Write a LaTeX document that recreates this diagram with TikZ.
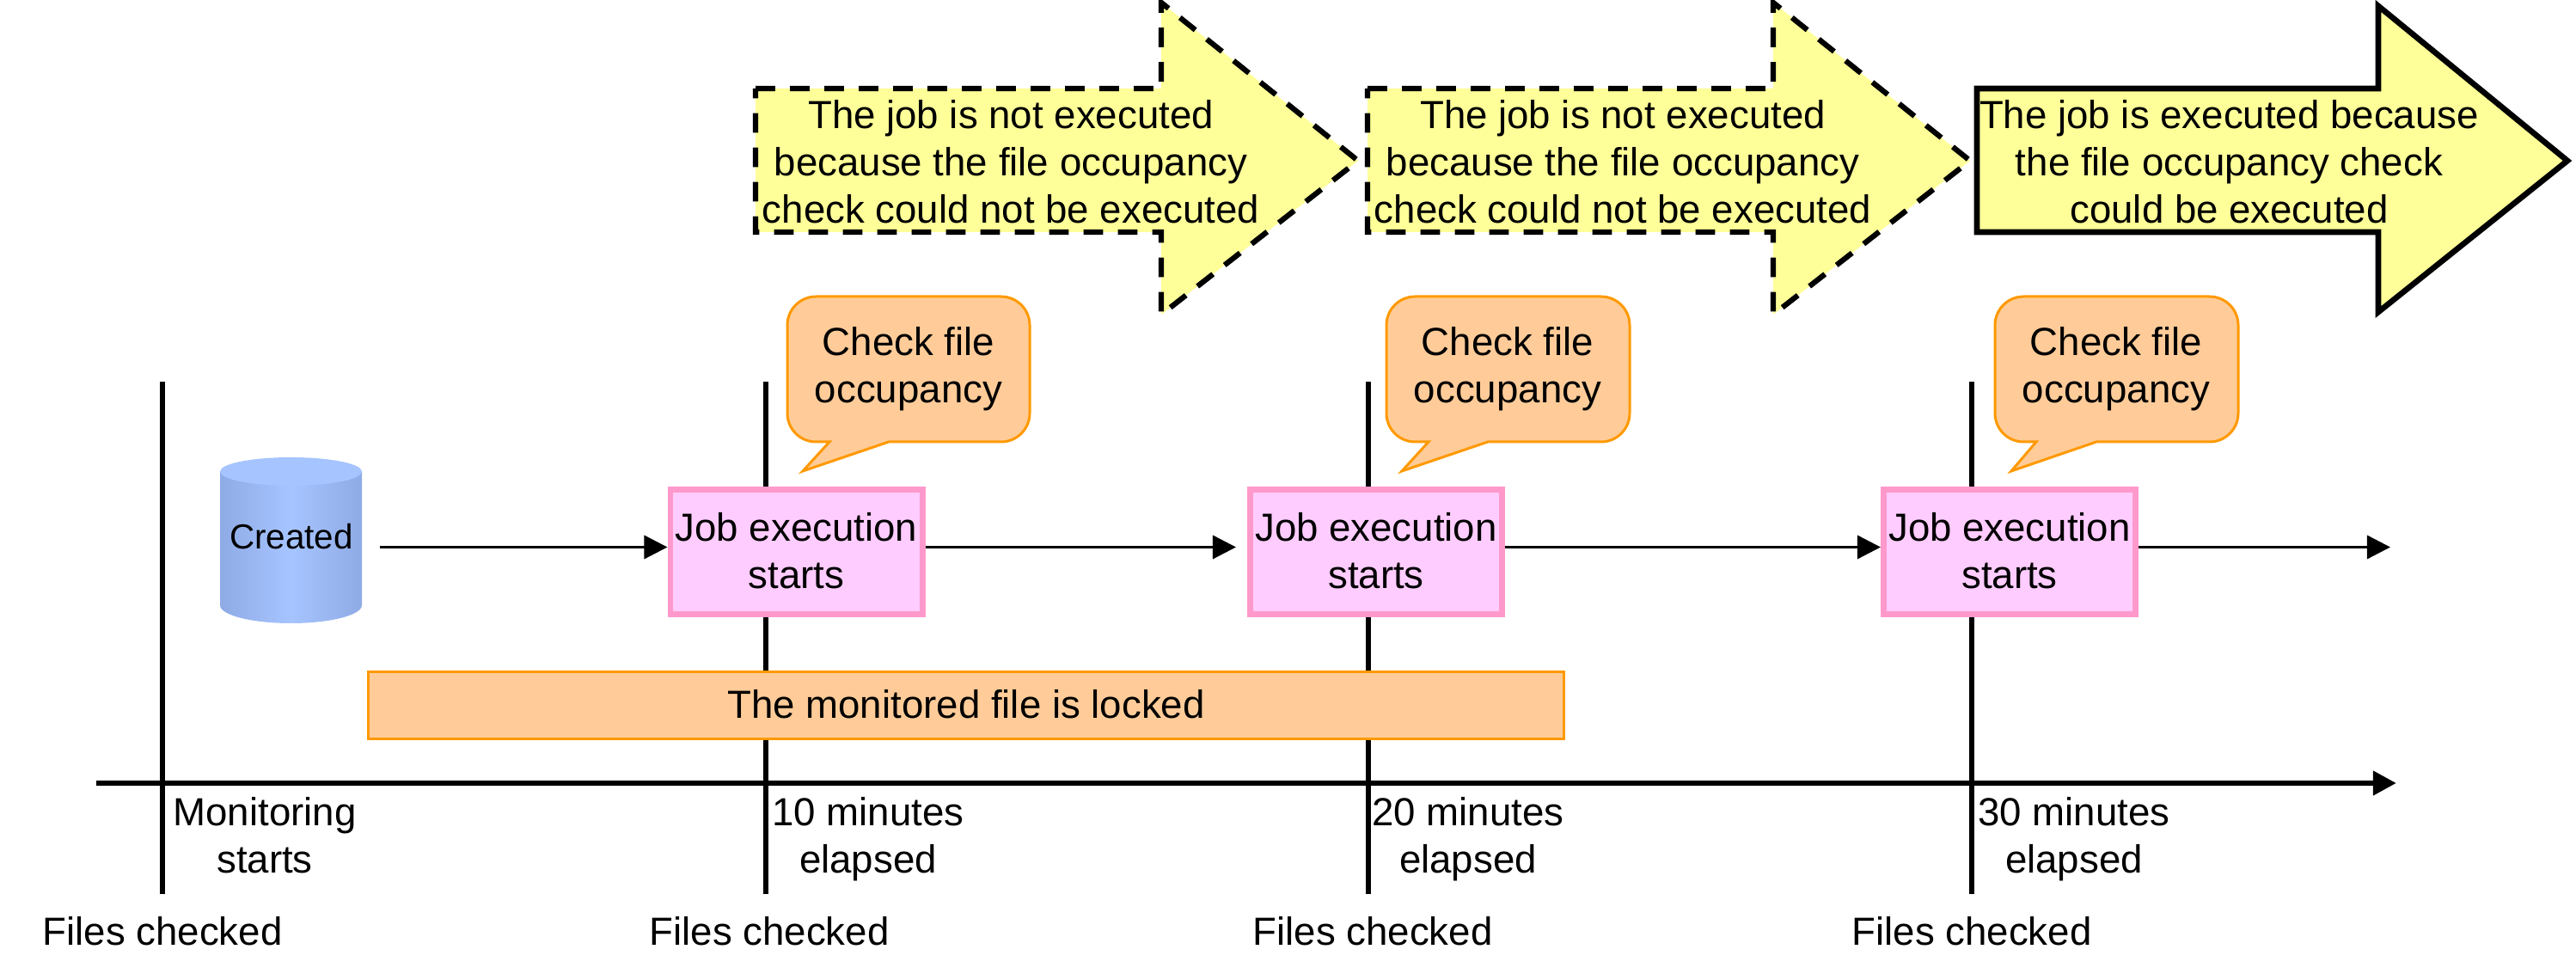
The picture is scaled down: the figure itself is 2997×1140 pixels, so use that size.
\documentclass[tikz,border=0pt]{standalone}
\usepackage{fontspec}
\setmainfont{Liberation Sans}
\usetikzlibrary{arrows.meta}
\definecolor{arrowfill}{HTML}{FFFF99}
\definecolor{calloutfill}{HTML}{FFCC99}
\definecolor{calloutline}{HTML}{FF9900}
\definecolor{jobfill}{HTML}{FFCCFF}
\definecolor{jobline}{HTML}{FF99CC}
\definecolor{cylmid}{HTML}{A6C4FF}
\definecolor{cyledge}{HTML}{8FABE6}
\newcommand{\ls}[1]{\strut #1}
\tikzset{
  txt/.style={inner sep=0pt,align=center,font=\fontsize{10.95pt}{13.2pt}\selectfont},
  bigarrow/.style={draw=black,fill=arrowfill,line width=1.6pt,miter limit=10},
  dasharrow/.style={bigarrow,line width=1.5pt,dash pattern=on 5.5pt off 4.1pt},
  callout/.style={draw=calloutline,fill=calloutfill,line width=0.72pt},
  jobbox/.style={txt,draw=jobline,fill=jobfill,line width=1.6pt,minimum width=70.4pt,minimum height=34.9pt},
  lockbar/.style={txt,draw=calloutline,fill=calloutfill,line width=0.72pt,minimum width=334pt,minimum height=18.8pt},
  tick/.style={draw=black,line width=1.45pt},
  flow/.style={draw=black,line width=0.8pt,-{Triangle[length=6.5pt,width=6.5pt]}},
  timeaxis/.style={draw=black,line width=1.65pt,-{Triangle[length=6.5pt,width=6.5pt]}},
  cylshade/.style={left color=cyledge,right color=cyledge,middle color=cylmid},
}
\begin{document}
\begin{tikzpicture}[x=0.24pt,y=-0.24pt]
\useasboundingbox (0,0) rectangle (2997,1140);
% ticks
\coordinate (t0a) at (189,444); \coordinate (t0b) at (189,1040);
\coordinate (t1a) at (891,444); \coordinate (t1b) at (891,1040);
\coordinate (t2a) at (1592,444); \coordinate (t2b) at (1592,1040);
\coordinate (t3a) at (2294,444); \coordinate (t3b) at (2294,1040);
\draw[tick] (t0a) -- (t0b);
\draw[tick] (t1a) -- (t1b);
\draw[tick] (t2a) -- (t2b);
\draw[tick] (t3a) -- (t3b);
\coordinate (axa) at (112,911); \coordinate (axb) at (2788,911);
\draw[timeaxis] (axa) -- (axb);
% big arrows
\draw[dasharrow] (879,103) -- (1351,103) -- (1351,3) -- (1580,187) -- (1351,366) -- (1351,270) -- (879,270) -- cycle;
\draw[dasharrow] (1591,103) -- (2063,103) -- (2063,3) -- (2292,187) -- (2063,366) -- (2063,270) -- (1591,270) -- cycle;
\draw[bigarrow] (2300,103) -- (2767,103) -- (2767,7) -- (2987,187) -- (2767,363) -- (2767,270) -- (2300,270) -- cycle;
\node[txt] (a1) at (1176,194) {\ls{The job is not executed}\\\ls{because the file occupancy}\\\ls{check could not be executed}};
\node[txt] (a2) at (1888,194) {\ls{The job is not executed}\\\ls{because the file occupancy}\\\ls{check could not be executed}};
\node[txt] (a3) at (2593.5,193.5) {\ls{The job is executed because}\\\ls{the file occupancy check}\\\ls{could be executed}};
% callouts
\draw[callout] (965,514) -- (934,548) -- (1034,514) [rounded corners=8pt] -- (1198,514) -- (1198,345) -- (916,345) -- (916,514) [sharp corners] -- cycle;
\draw[callout] (1662,514) -- (1631,548) -- (1731,514) [rounded corners=8pt] -- (1896,514) -- (1896,345) -- (1613,345) -- (1613,514) [sharp corners] -- cycle;
\draw[callout] (2369,514) -- (2340,548) -- (2439,514) [rounded corners=8pt] -- (2604,514) -- (2604,345) -- (2321,345) -- (2321,514) [sharp corners] -- cycle;
\node[txt] (c1) at (1057,430.5) {\ls{Check file}\\\ls{occupancy}};
\node[txt] (c2) at (1754,430.5) {\ls{Check file}\\\ls{occupancy}};
\node[txt] (c3) at (2462,430.5) {\ls{Check file}\\\ls{occupancy}};
% cylinder
\shade[cylshade] (338.5,704) ellipse [x radius=82.5,y radius=21];
\shade[cylshade] (256,548.5) rectangle (421,704);
\fill[cylmid] (338.5,548.5) ellipse [x radius=82.5,y radius=16.5];
\node[inner sep=0pt,font=\fontsize{9.7pt}{11.6pt}\selectfont] (created) at (339,629) {\strut Created};
% job boxes
\node[jobbox] (job1) at (926.5,642) {\rule{0pt}{11.3pt}Job execution\\\ls{starts}};
\node[jobbox] (job2) at (1601,642) {\rule{0pt}{11.3pt}Job execution\\\ls{starts}};
\node[jobbox] (job3) at (2338,642) {\rule{0pt}{11.3pt}Job execution\\\ls{starts}};
% flows
\coordinate (f0) at (442,636.5);
\coordinate (f2) at (1438,636.5);
\coordinate (f3) at (2781,636.5);
\draw[flow] (f0) -- (f0 -| job1.west);
\draw[flow] (f0 -| job1.east) -- (f2);
\draw[flow] (f0 -| job2.east) -- (f0 -| job3.west);
\draw[flow] (f0 -| job3.east) -- (f3);
% lock bar
\node[lockbar] (lock) at (1124,820.5) {\rule{0pt}{11.4pt}\rule[-3.96pt]{0pt}{3.96pt}The monitored file is locked};
% labels
\node[txt] (m0) at (308,977.5) {\ls{Monitoring}\\\ls{starts}};
\node[txt] (m1) at (1010,977.5) {\ls{10 minutes}\\\ls{elapsed}};
\node[txt] (m2) at (1708,977.5) {\ls{20 minutes}\\\ls{elapsed}};
\node[txt] (m3) at (2413,977.5) {\ls{30 minutes}\\\ls{elapsed}};
\node[txt] (fc0) at (189,1089) {\ls{Files checked}};
\node[txt] (fc1) at (895,1089) {\ls{Files checked}};
\node[txt] (fc2) at (1597,1089) {\ls{Files checked}};
\node[txt] (fc3) at (2294,1089) {\ls{Files checked}};
\end{tikzpicture}
\end{document}
